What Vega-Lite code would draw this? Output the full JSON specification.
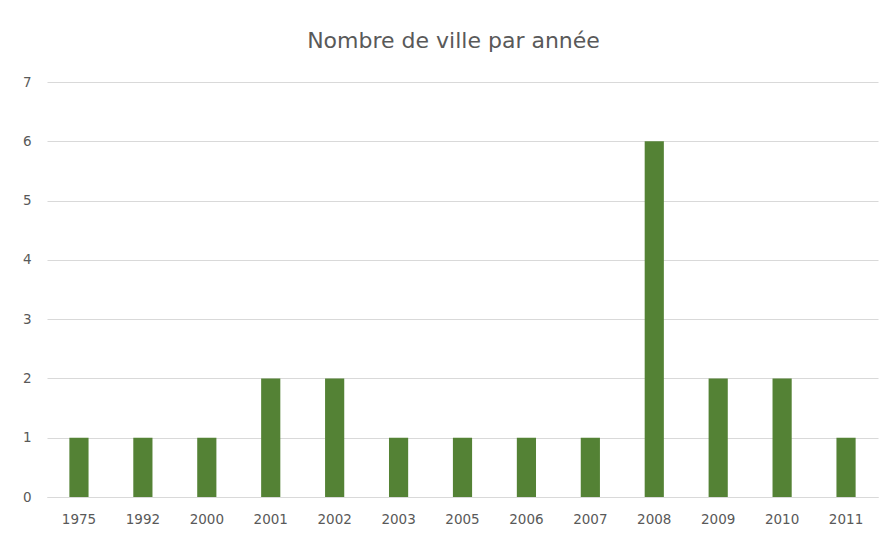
{
  "$schema": "https://vega.github.io/schema/vega-lite/v6.json",
  "width": 831,
  "height": 415,
  "autosize": {"type": "none"},
  "padding": {"left": 47, "top": 82, "right": 12, "bottom": 42},
  "background": "white",
  "title": {
    "text": "Nombre de ville par année",
    "font": "DejaVu Sans",
    "fontSize": 22,
    "fontWeight": "normal",
    "color": "#595959",
    "anchor": "middle",
    "dx": -9,
    "offset": 22
  },
  "data": {
    "values": [
      {"annee": "1975", "n": 1},
      {"annee": "1992", "n": 1},
      {"annee": "2000", "n": 1},
      {"annee": "2001", "n": 2},
      {"annee": "2002", "n": 2},
      {"annee": "2003", "n": 1},
      {"annee": "2005", "n": 1},
      {"annee": "2006", "n": 1},
      {"annee": "2007", "n": 1},
      {"annee": "2008", "n": 6},
      {"annee": "2009", "n": 2},
      {"annee": "2010", "n": 2},
      {"annee": "2011", "n": 1}
    ]
  },
  "mark": {"type": "bar", "color": "#548235"},
  "encoding": {
    "x": {
      "field": "annee",
      "type": "ordinal",
      "sort": null,
      "scale": {"paddingInner": 0.7, "paddingOuter": 0.35},
      "axis": {
        "title": null,
        "labelAngle": 0,
        "labelFont": "DejaVu Sans",
        "labelFontSize": 13.5,
        "labelColor": "#595959",
        "labelPadding": 15,
        "ticks": false,
        "domain": true,
        "domainColor": "#d9d9d9",
        "domainWidth": 1
      }
    },
    "y": {
      "field": "n",
      "type": "quantitative",
      "scale": {"domain": [0, 7]},
      "axis": {
        "title": null,
        "values": [0, 1, 2, 3, 4, 5, 6, 7],
        "labelFont": "DejaVu Sans",
        "labelFontSize": 13.5,
        "labelColor": "#595959",
        "labelPadding": 16,
        "ticks": false,
        "domain": false,
        "grid": true,
        "gridColor": "#d9d9d9",
        "gridWidth": 1
      }
    }
  },
  "config": {"view": {"stroke": null}}
}
